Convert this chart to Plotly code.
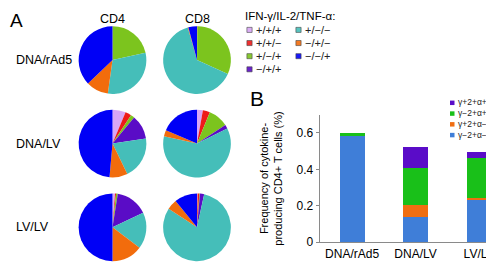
import plotly.graph_objects as go

W, H = 494, 262
FONT = "Liberation Sans, Arial, sans-serif"

# ---------------- data ----------------
combos = ["+/+/+", "+/+/−", "+/−/+", "−/+/+", "+/−/−", "−/+/−", "−/−/+"]
combo_colors = ["#D8A6F6", "#EE1A1A", "#7CC41E", "#5A0CC6", "#45BEB9", "#F26C0C", "#0000F6"]

groups = ["DNA/rAd5", "DNA/LV", "LV/LV"]
subsets = ["CD4", "CD8"]

cd4_rad5 = [0, 0, 21.5, 0, 30.7, 10.7, 37.1]
cd8_rad5 = [0, 0.2, 31.6, 0, 63.8, 0.3, 4.1]
cd4_dnalv = [6.3, 2.9, 1.8, 11.6, 20.2, 8.6, 48.6]
cd8_dnalv = [2.8, 3.4, 9.6, 1.8, 60.9, 3.0, 18.5]
cd4_lvlv = [1.2, 0.5, 0.8, 15.5, 17.3, 14.7, 50.0]
cd8_lvlv = [0.3, 0.8, 0.3, 2.0, 80.8, 4.9, 10.9]

bar_series = ["γ−2+α−", "γ+2+α−", "γ−2+α+", "γ+2+α+"]
bar_colors = ["#3F7ED8", "#F06E12", "#19C019", "#5A0CC8"]
freq_g_m2_a_m = [0.585, 0.142, 0.231]
freq_g_p2_a_m = [0.0, 0.065, 0.013]
freq_g_m2_a_p = [0.017, 0.201, 0.222]
freq_g_p2_a_p = [0.0, 0.117, 0.029]
y_ticks = [0, 0.2, 0.4, 0.6]

# ---------------- helpers ----------------
def px(x):
    return x / W

def py(y):
    return 1 - y / H

fig = go.Figure()

pie_values = [[cd4_rad5, cd8_rad5], [cd4_dnalv, cd8_dnalv], [cd4_lvlv, cd8_lvlv]]
col_cx = [104.5, 189.0]
row_cy = [53.5, 139.3, 225.3]
R = 34.8
for ri, row in enumerate(pie_values):
    for ci, vals in enumerate(row):
        cx, cy = col_cx[ci], row_cy[ri]
        fig.add_trace(go.Pie(
            labels=combos, values=vals, sort=False, direction="clockwise",
            rotation=0, textinfo="none", hoverinfo="label+value",
            marker=dict(colors=combo_colors, line=dict(width=0)),
            domain=dict(x=[px(cx - R), px(cx + R)], y=[py(cy + R), py(cy - R)]),
            showlegend=False,
        ))

# stacked bars
bar_data = [freq_g_m2_a_m, freq_g_p2_a_m, freq_g_m2_a_p, freq_g_p2_a_p]
for name, vals, col in zip(bar_series, bar_data, bar_colors):
    fig.add_trace(go.Bar(
        x=groups, y=vals, name=name, marker=dict(color=col, line=dict(width=0)),
        width=0.395, showlegend=False, xaxis="x", yaxis="y",
    ))

ann = []
shapes = []

def text(x, y, s, size, xanchor="center", yanchor="middle", color="#000", align="center"):
    ann.append(dict(x=px(x), y=py(y), xref="paper", yref="paper", text=s,
                    showarrow=False, xanchor=xanchor, yanchor=yanchor, align=align,
                    borderpad=0,
                    font=dict(family=FONT, size=size, color=color)))

text(1, 13, "A", 19, xanchor="left")
text(241, 93, "B", 21, xanchor="left")
for ci, s in enumerate(subsets):
    text(col_cx[ci], 11, s, 12.5)
for ri, g in enumerate(groups):
    text(6.5, row_cy[ri], g, 12.5, xanchor="left")

# pie legend
text(236, 8, "IFN-γ/IL-2/TNF-α:", 11.5, xanchor="left")
leg_pos = [(241.5, 22.5), (241.5, 36), (241.5, 49.5), (241.5, 63), (290.5, 22.5), (290.5, 36), (290.5, 49.5)]
for (lx, ly), lab, col in zip(leg_pos, combos, combo_colors):
    shapes.append(dict(type="rect", xref="paper", yref="paper",
                       x0=px(lx - 2.6), x1=px(lx + 2.6), y0=py(ly + 2.6), y1=py(ly - 2.6),
                       fillcolor=col, line=dict(color="#333", width=0.6), opacity=0.9))
    text(lx + 5.5, ly, lab, 11, xanchor="left", color="#222")

# bar legend: one multi-line text block
bfs = 8.5
step = bfs * 1.3
bl_mid = 114.0
bl_y = [bl_mid + (i - 1.5) * step for i in range(4)]
for ly, col in zip(bl_y, bar_colors[::-1]):
    shapes.append(dict(type="rect", xref="paper", yref="paper",
                       x0=px(442), x1=px(446.5), y0=py(ly + 2.3), y1=py(ly - 2.3),
                       fillcolor=col, line=dict(width=0)))
text(448.5, bl_mid, "<br>".join(bar_series[::-1]), bfs, xanchor="left", align="left", color="#222")

fig.update_layout(
    width=W, height=H, autosize=False,
    margin=dict(l=0, r=0, t=0, b=0),
    paper_bgcolor="white", plot_bgcolor="white",
    barmode="stack", bargap=0,
    font=dict(family=FONT, size=12, color="#000"),
    annotations=ann, shapes=shapes,
    xaxis=dict(domain=[px(311.7), px(492)], range=[-0.51, 2.33], type="category",
               showline=True, linecolor="#8a8a8a", linewidth=1, ticks="", showgrid=False,
               zeroline=False, tickfont=dict(size=12, family=FONT), fixedrange=True),
    yaxis=dict(domain=[py(240.7), py(109.6)], range=[0, 0.7], tickvals=y_ticks,
               ticktext=["0", "0.2", "0.4", "0.6"],
               showline=True, linecolor="#8a8a8a", linewidth=1, ticks="outside",
               ticklen=3, tickcolor="#8a8a8a", showgrid=False, zeroline=False,
               tickfont=dict(size=12, family=FONT),
               title=dict(text="Frequency of cytokine-<br>producing CD4+ T cells (%)",
                          font=dict(size=11, family=FONT), standoff=11)),
)

fig.write_html("out.html")
